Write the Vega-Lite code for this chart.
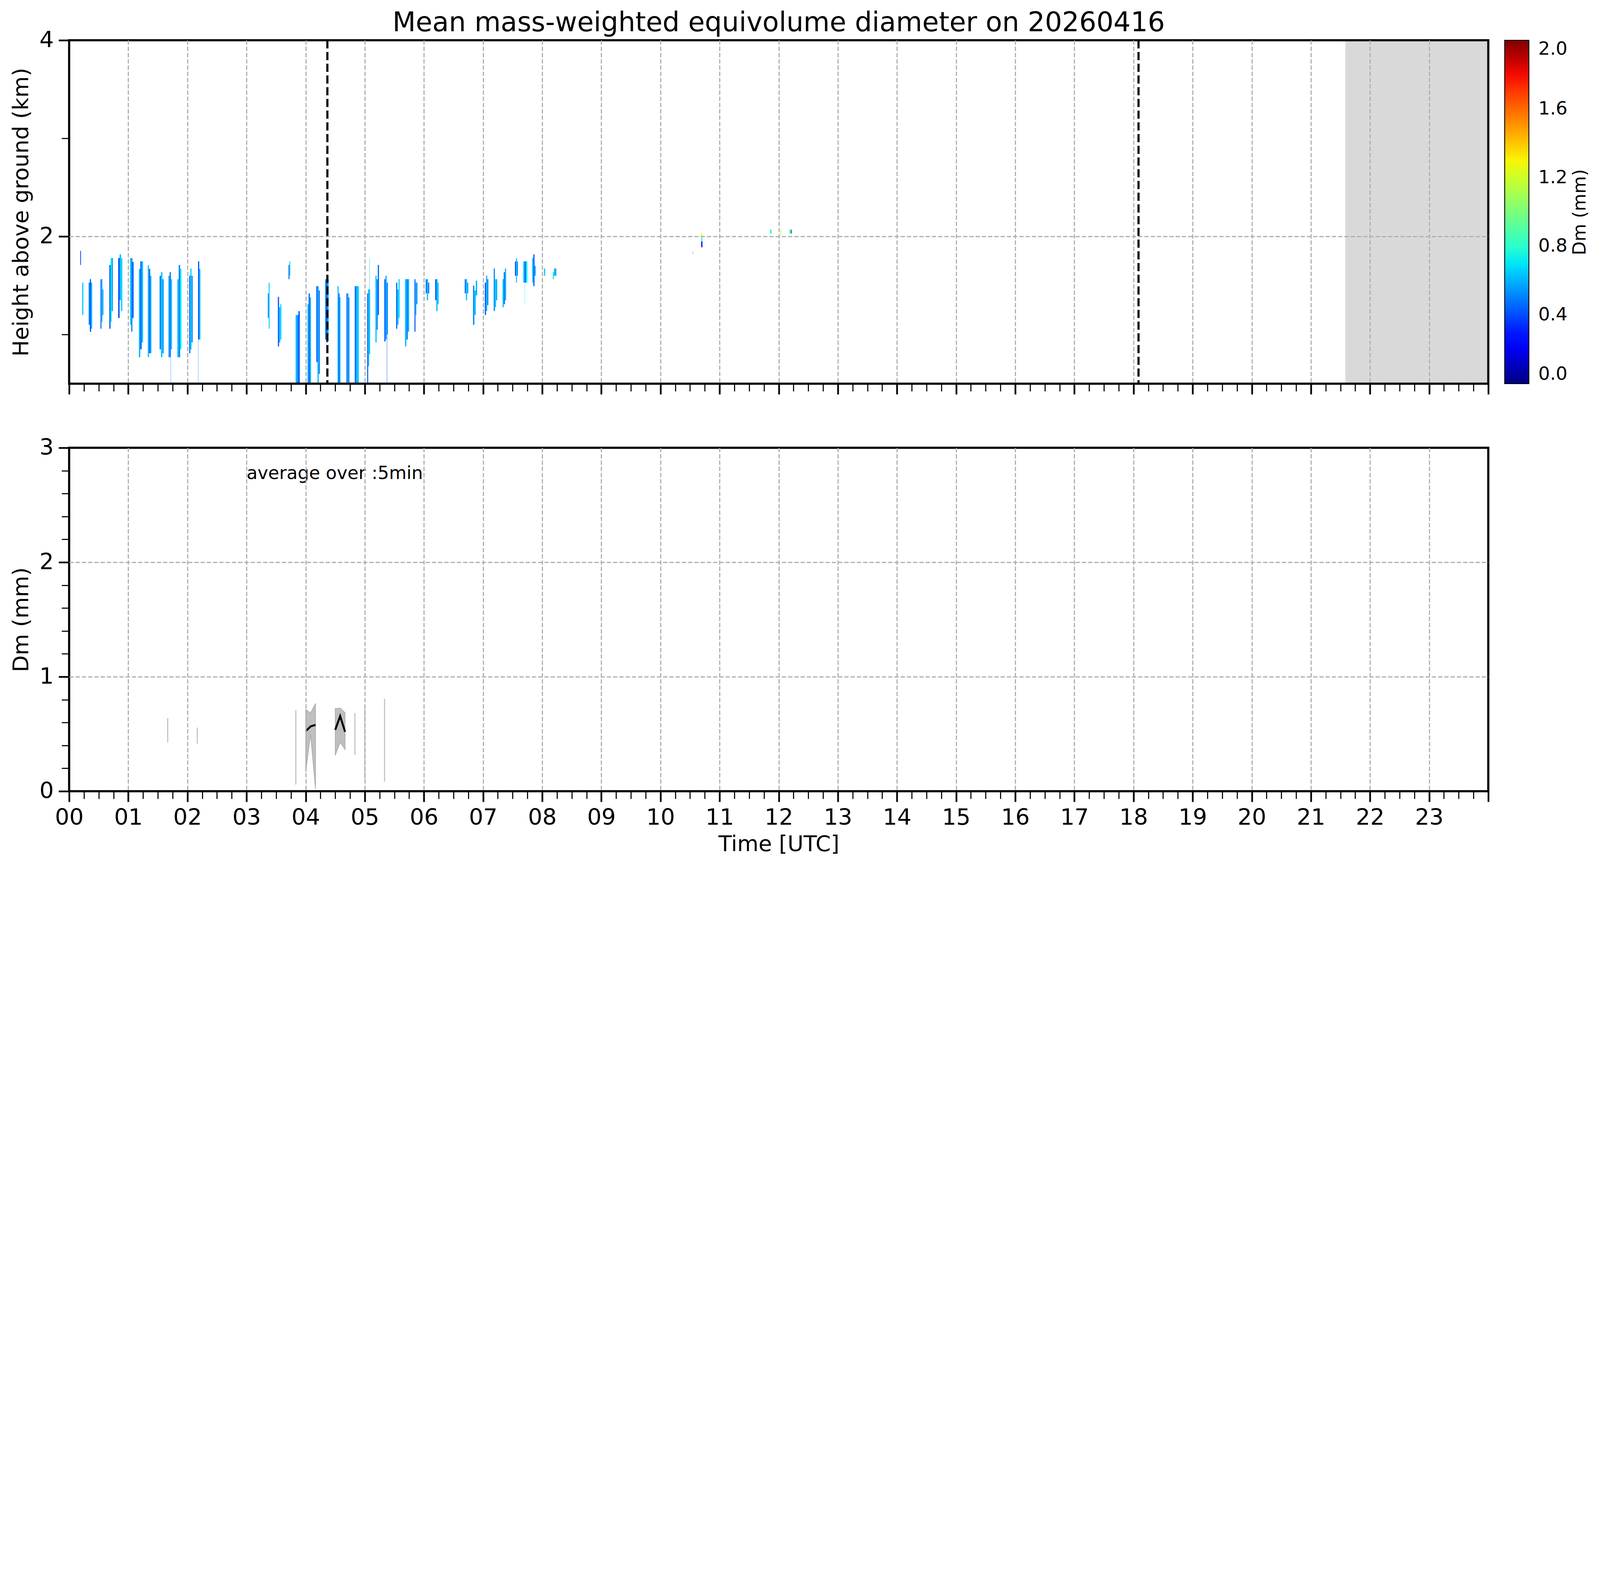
{
  "$schema": "https://vega.github.io/schema/vega-lite/v6.json",
  "background": "white",
  "padding": {"left": 26, "top": 25, "right": 10, "bottom": 10},
  "spacing": 164,
  "bounds": "flush",
  "resolve": {"scale": {"color": "independent"}},
  "config": {
    "font": "DejaVu Sans",
    "view": {"stroke": null},
    "axis": {
      "labelFont": "DejaVu Sans", "titleFont": "DejaVu Sans",
      "labelColor": "black", "titleColor": "black", "tickColor": "black",
      "titleFontWeight": "normal", "labelFontSize": 57.7, "titleFontSize": 56,
      "domain": false, "gridColor": "#b0b0b0", "gridWidth": 3, "gridDash": [11, 5],
      "labelOverlap": false, "labelFlush": false
    }
  },
  "datasets": {
    "nodata": [{"start": 21.583, "end": 24}],
    "events": [{"t": 4.367}, {"t": 18.085}],
    "dm": [
      {"a":0.188,"b":0.2,"lo":1.71,"hi":1.854,"dm":0.35},
      {"a":0.22,"b":0.24,"lo":1.2,"hi":1.53,"dm":0.65},
      {"a":0.33,"b":0.35,"lo":1.1,"hi":1.53,"dm":0.52},{"a":0.35,"b":0.37,"lo":1.03,"hi":1.565,"dm":0.42},{"a":0.37,"b":0.39,"lo":1.06,"hi":1.53,"dm":0.63},
      {"a":0.53,"b":0.547,"lo":1.06,"hi":1.565,"dm":0.45},{"a":0.547,"b":0.563,"lo":1.13,"hi":1.565,"dm":0.63},{"a":0.563,"b":0.58,"lo":1.2,"hi":1.46,"dm":0.57},
      {"a":0.68,"b":0.7,"lo":1.06,"hi":1.71,"dm":0.42},{"a":0.7,"b":0.72,"lo":1.13,"hi":1.78,"dm":0.72},{"a":0.72,"b":0.74,"lo":1.24,"hi":1.78,"dm":0.57},
      {"a":0.83,"b":0.853,"lo":1.17,"hi":1.78,"dm":0.38},{"a":0.853,"b":0.877,"lo":1.35,"hi":1.817,"dm":0.6},{"a":0.877,"b":0.9,"lo":1.24,"hi":1.78,"dm":0.68},
      {"a":1.03,"b":1.05,"lo":1.1,"hi":1.78,"dm":0.65},{"a":1.05,"b":1.07,"lo":1.03,"hi":1.78,"dm":0.52},{"a":1.07,"b":1.09,"lo":1.17,"hi":1.74,"dm":0.42},
      {"a":1.18,"b":1.203,"lo":0.77,"hi":1.67,"dm":0.6},{"a":1.203,"b":1.227,"lo":0.85,"hi":1.746,"dm":0.45},{"a":1.227,"b":1.25,"lo":0.92,"hi":1.746,"dm":0.63},
      {"a":1.33,"b":1.35,"lo":0.77,"hi":1.709,"dm":0.63},{"a":1.35,"b":1.37,"lo":0.81,"hi":1.67,"dm":0.42},{"a":1.37,"b":1.39,"lo":0.81,"hi":1.6,"dm":0.57},
      {"a":1.53,"b":1.553,"lo":0.85,"hi":1.6,"dm":0.5},{"a":1.553,"b":1.577,"lo":0.77,"hi":1.637,"dm":0.63},{"a":1.577,"b":1.6,"lo":0.81,"hi":1.565,"dm":0.57},
      {"a":1.68,"b":1.7,"lo":0.77,"hi":1.6,"dm":0.57},{"a":1.7,"b":1.72,"lo":0.77,"hi":1.637,"dm":0.45},{"a":1.72,"b":1.74,"lo":0.85,"hi":1.565,"dm":0.63},{"a":1.716,"b":1.72,"lo":0.5,"hi":0.77,"dm":0.5},
      {"a":1.83,"b":1.853,"lo":0.77,"hi":1.565,"dm":0.63},{"a":1.853,"b":1.877,"lo":0.77,"hi":1.709,"dm":0.5},{"a":1.877,"b":1.9,"lo":0.85,"hi":1.67,"dm":0.72},
      {"a":2.03,"b":2.05,"lo":0.81,"hi":1.6,"dm":0.45},{"a":2.05,"b":2.07,"lo":0.85,"hi":1.674,"dm":0.65},{"a":2.07,"b":2.09,"lo":0.92,"hi":1.6,"dm":0.52},
      {"a":2.18,"b":2.2,"lo":0.95,"hi":1.746,"dm":0.42},{"a":2.2,"b":2.22,"lo":0.95,"hi":1.67,"dm":0.63},{"a":2.18,"b":2.184,"lo":0.5,"hi":0.95,"dm":0.52},
      {"a":3.36,"b":3.375,"lo":1.17,"hi":1.42,"dm":0.5},{"a":3.375,"b":3.39,"lo":1.06,"hi":1.53,"dm":0.65},
      {"a":3.53,"b":3.55,"lo":0.88,"hi":1.385,"dm":0.42},{"a":3.55,"b":3.57,"lo":0.92,"hi":1.28,"dm":0.6},{"a":3.57,"b":3.59,"lo":0.95,"hi":1.31,"dm":0.68},
      {"a":3.71,"b":3.725,"lo":1.565,"hi":1.71,"dm":0.42},{"a":3.725,"b":3.74,"lo":1.6,"hi":1.746,"dm":0.68},
      {"a":3.83,"b":3.853,"lo":0.5,"hi":1.2,"dm":0.63},{"a":3.853,"b":3.877,"lo":0.5,"hi":1.2,"dm":0.52},{"a":3.877,"b":3.9,"lo":0.5,"hi":1.24,"dm":0.42},
      {"a":4.03,"b":4.05,"lo":0.5,"hi":1.31,"dm":0.63},{"a":4.05,"b":4.07,"lo":0.5,"hi":1.42,"dm":0.45},{"a":4.07,"b":4.09,"lo":0.5,"hi":1.38,"dm":0.6},
      {"a":4.18,"b":4.2,"lo":0.72,"hi":1.494,"dm":0.42},{"a":4.2,"b":4.22,"lo":0.5,"hi":1.494,"dm":0.6},{"a":4.22,"b":4.24,"lo":0.6,"hi":1.45,"dm":0.5},
      {"a":4.33,"b":4.35,"lo":0.95,"hi":1.565,"dm":0.5},{"a":4.35,"b":4.37,"lo":0.92,"hi":1.53,"dm":0.38},{"a":4.37,"b":4.39,"lo":1.0,"hi":1.565,"dm":0.63},
      {"a":4.54,"b":4.557,"lo":0.5,"hi":1.494,"dm":0.6},{"a":4.557,"b":4.573,"lo":0.5,"hi":1.42,"dm":0.42},{"a":4.573,"b":4.59,"lo":0.5,"hi":1.38,"dm":0.63},
      {"a":4.69,"b":4.707,"lo":0.5,"hi":1.42,"dm":0.42},{"a":4.707,"b":4.723,"lo":0.5,"hi":1.42,"dm":0.6},{"a":4.723,"b":4.74,"lo":0.5,"hi":1.38,"dm":0.5},
      {"a":4.83,"b":4.853,"lo":0.5,"hi":1.494,"dm":0.45},{"a":4.853,"b":4.877,"lo":0.5,"hi":1.494,"dm":0.6},{"a":4.877,"b":4.9,"lo":0.5,"hi":1.494,"dm":0.65},
      {"a":5.04,"b":5.057,"lo":0.5,"hi":1.42,"dm":0.42},{"a":5.057,"b":5.073,"lo":0.68,"hi":1.46,"dm":0.6},{"a":5.073,"b":5.09,"lo":0.8,"hi":1.46,"dm":0.63},{"a":5.078,"b":5.083,"lo":1.46,"hi":1.78,"dm":0.63},
      {"a":5.18,"b":5.2,"lo":0.92,"hi":1.6,"dm":0.63},{"a":5.2,"b":5.22,"lo":1.05,"hi":1.565,"dm":0.52},{"a":5.22,"b":5.24,"lo":1.2,"hi":1.71,"dm":0.45},
      {"a":5.33,"b":5.35,"lo":0.93,"hi":1.565,"dm":0.42},{"a":5.35,"b":5.37,"lo":0.95,"hi":1.6,"dm":0.6},{"a":5.37,"b":5.39,"lo":1.0,"hi":1.53,"dm":0.52},{"a":5.374,"b":5.379,"lo":0.5,"hi":1.0,"dm":0.38},
      {"a":5.53,"b":5.55,"lo":1.06,"hi":1.53,"dm":0.45},{"a":5.55,"b":5.57,"lo":1.1,"hi":1.46,"dm":0.63},{"a":5.57,"b":5.59,"lo":1.17,"hi":1.565,"dm":0.68},
      {"a":5.68,"b":5.703,"lo":0.88,"hi":1.565,"dm":0.63},{"a":5.703,"b":5.727,"lo":0.95,"hi":1.565,"dm":0.5},{"a":5.727,"b":5.75,"lo":1.03,"hi":1.565,"dm":0.6},
      {"a":5.84,"b":5.857,"lo":1.03,"hi":1.565,"dm":0.42},{"a":5.857,"b":5.873,"lo":1.2,"hi":1.53,"dm":0.63},{"a":5.873,"b":5.89,"lo":1.31,"hi":1.53,"dm":0.52},
      {"a":6.03,"b":6.05,"lo":1.42,"hi":1.565,"dm":0.45},{"a":6.05,"b":6.07,"lo":1.35,"hi":1.565,"dm":0.63},{"a":6.07,"b":6.09,"lo":1.42,"hi":1.53,"dm":0.5},
      {"a":6.19,"b":6.21,"lo":1.35,"hi":1.565,"dm":0.42},{"a":6.21,"b":6.23,"lo":1.24,"hi":1.565,"dm":0.6},{"a":6.23,"b":6.25,"lo":1.31,"hi":1.53,"dm":0.65},
      {"a":6.69,"b":6.71,"lo":1.42,"hi":1.565,"dm":0.45},{"a":6.71,"b":6.73,"lo":1.35,"hi":1.565,"dm":0.63},{"a":6.73,"b":6.75,"lo":1.42,"hi":1.53,"dm":0.57},
      {"a":6.83,"b":6.853,"lo":1.1,"hi":1.5,"dm":0.52},{"a":6.853,"b":6.877,"lo":1.2,"hi":1.45,"dm":0.63},{"a":6.877,"b":6.9,"lo":1.4,"hi":1.55,"dm":0.6},
      {"a":7.03,"b":7.05,"lo":1.2,"hi":1.53,"dm":0.42},{"a":7.05,"b":7.07,"lo":1.24,"hi":1.6,"dm":0.6},{"a":7.07,"b":7.09,"lo":1.3,"hi":1.565,"dm":0.52},
      {"a":7.18,"b":7.2,"lo":1.24,"hi":1.674,"dm":0.52},{"a":7.2,"b":7.22,"lo":1.28,"hi":1.565,"dm":0.65},{"a":7.22,"b":7.24,"lo":1.35,"hi":1.565,"dm":0.6},
      {"a":7.33,"b":7.35,"lo":1.278,"hi":1.565,"dm":0.63},{"a":7.35,"b":7.37,"lo":1.31,"hi":1.637,"dm":0.45},{"a":7.37,"b":7.39,"lo":1.35,"hi":1.674,"dm":0.6},
      {"a":7.54,"b":7.557,"lo":1.6,"hi":1.746,"dm":0.38},{"a":7.557,"b":7.573,"lo":1.53,"hi":1.78,"dm":0.63},{"a":7.573,"b":7.59,"lo":1.6,"hi":1.746,"dm":0.52},
      {"a":7.68,"b":7.703,"lo":1.53,"hi":1.746,"dm":0.63},{"a":7.703,"b":7.727,"lo":1.53,"hi":1.746,"dm":0.45},{"a":7.727,"b":7.75,"lo":1.53,"hi":1.746,"dm":0.72},{"a":7.705,"b":7.709,"lo":1.31,"hi":1.53,"dm":0.72},
      {"a":7.83,"b":7.85,"lo":1.53,"hi":1.78,"dm":0.65},{"a":7.85,"b":7.87,"lo":1.494,"hi":1.817,"dm":0.42},{"a":7.87,"b":7.89,"lo":1.6,"hi":1.7,"dm":0.57},
      {"a":8.03,"b":8.05,"lo":1.6,"hi":1.674,"dm":0.63},
      {"a":8.18,"b":8.2,"lo":1.565,"hi":1.637,"dm":0.72},{"a":8.2,"b":8.24,"lo":1.6,"hi":1.674,"dm":0.6},
      {"a":10.548,"b":10.552,"lo":1.82,"hi":1.85,"dm":0.45},
      {"a":10.69,"b":10.71,"lo":1.89,"hi":1.95,"dm":0.2},
      {"a":10.69,"b":10.71,"lo":1.95,"hi":1.99,"dm":0.75},
      {"a":10.69,"b":10.71,"lo":1.99,"hi":2.03,"dm":1.3},
      {"a":11.85,"b":11.88,"lo":2.03,"hi":2.07,"dm":0.85},
      {"a":12.03,"b":12.04,"lo":2.01,"hi":2.07,"dm":1.1},
      {"a":12.18,"b":12.21,"lo":2.03,"hi":2.07,"dm":0.9},
      {"a":12.21,"b":12.22,"lo":2.03,"hi":2.07,"dm":0.15}
    ],
    "edges": [
      {"t":1.6667,"lo":0.427,"hi":0.639},
      {"t":2.1667,"lo":0.416,"hi":0.556},
      {"t":3.8333,"lo":0.058,"hi":0.709},
      {"t":4.8333,"lo":0.318,"hi":0.682},
      {"t":5.0,"lo":0.104,"hi":0.743},
      {"t":5.3333,"lo":0.084,"hi":0.808}
    ],
    "band": [
      {"t":4.0,"lo":0.167,"hi":0.714,"seg":1},
      {"t":4.0833,"lo":0.495,"hi":0.685,"seg":1},
      {"t":4.1667,"lo":0.019,"hi":0.767,"seg":1},
      {"t":4.5,"lo":0.313,"hi":0.723,"seg":2},
      {"t":4.5833,"lo":0.427,"hi":0.726,"seg":2},
      {"t":4.6667,"lo":0.364,"hi":0.685,"seg":2}
    ],
    "mean": [
      {"t":4.0,"dm":0.524,"seg":1},
      {"t":4.0833,"dm":0.566,"seg":1},
      {"t":4.1667,"dm":0.58,"seg":1},
      {"t":4.5,"dm":0.536,"seg":2},
      {"t":4.5833,"dm":0.656,"seg":2},
      {"t":4.6667,"dm":0.519,"seg":2}
    ],
    "note": [{"t": 3.0, "v": 2.728, "label": "average over :5min"}]
  },
  "vconcat": [
    {
      "width": 3633,
      "height": 879,
      "title": {"text": "Mean mass-weighted equivolume diameter on 20260416", "font": "DejaVu Sans", "fontSize": 69, "fontWeight": "normal", "color": "black", "anchor": "middle", "frame": "group", "baseline": "alphabetic", "offset": -75},
      "resolve": {"axis": {"x": "independent", "y": "independent"}},
      "layer": [
        {
          "data": {"name": "nodata"},
          "mark": {"type": "rect", "color": "#d9d9d9"},
          "encoding": {
            "x": {"field": "start", "type": "quantitative", "scale": {"domain": [0, 24], "nice": false, "zero": false},
              "axis": {
                "orient": "bottom", "title": null, "labels": false, "zindex": 1, "grid": true,
                "values": [0,1,2,3,4,5,6,7,8,9,10,11,12,13,14,15,16,17,18,19,20,21,22,23,24],
                "tickSize": 27, "tickWidth": 4.4,
                "gridOpacity": {"condition": {"test": "datum.value > 0 && datum.value < 24", "value": 1}, "value": 0}
              }
            },
            "x2": {"field": "end"},
            "y": {"datum": 0.5, "type": "quantitative", "scale": {"domain": [0.5, 4], "nice": false, "zero": false},
              "axis": {
                "orient": "left", "title": "Height above ground (km)", "titleX": -105.2, "titleY": 439.5, "titleBaseline": "alphabetic", "titleAngle": 270, "titleAlign": "center",
                "zindex": 1, "grid": true, "values": [2, 4], "tickSize": 27, "tickWidth": 4.4, "labelPadding": 12.9,
                "gridOpacity": {"condition": {"test": "datum.value === 2", "value": 1}, "value": 0}
              }
            },
            "y2": {"datum": 4}
          }
        },
        {
          "data": {"name": "dm"},
          "mark": {"type": "rect"},
          "encoding": {
            "x": {"field": "a", "type": "quantitative", "scale": {"domain": [0, 24], "nice": false, "zero": false},
              "axis": {
                "orient": "bottom", "title": null, "labels": false, "grid": false, "zindex": 1,
                "values": [0.25,0.5,0.75,1.25,1.5,1.75,2.25,2.5,2.75,3.25,3.5,3.75,4.25,4.5,4.75,5.25,5.5,5.75,6.25,6.5,6.75,7.25,7.5,7.75,8.25,8.5,8.75,9.25,9.5,9.75,10.25,10.5,10.75,11.25,11.5,11.75,12.25,12.5,12.75,13.25,13.5,13.75,14.25,14.5,14.75,15.25,15.5,15.75,16.25,16.5,16.75,17.25,17.5,17.75,18.25,18.5,18.75,19.25,19.5,19.75,20.25,20.5,20.75,21.25,21.5,21.75,22.25,22.5,22.75,23.25,23.5,23.75],
                "tickSize": 19.3, "tickWidth": 2.75
              }
            },
            "x2": {"field": "b"},
            "y": {"field": "lo", "type": "quantitative", "scale": {"domain": [0.5, 4], "nice": false, "zero": false},
              "axis": {
                "orient": "left", "title": null, "labels": false, "grid": false, "zindex": 1,
                "values": [1, 3], "tickSize": 19.3, "tickWidth": 2.75
              }
            },
            "y2": {"field": "hi"},
            "color": {
              "field": "dm", "type": "quantitative",
              "scale": {
                "domain": [0, 0.22, 0.25, 0.68, 0.7, 0.75, 1, 1.28, 1.32, 1.78, 1.82, 2],
                "range": ["#000080", "#0000ff", "#0000ff", "#00dbff", "#00e6f7", "#14ffe2", "#7bff7b", "#eeff08", "#ffec00", "#ff1300", "#e80000", "#800000"],
                "interpolate": "rgb", "clamp": true
              },
              "legend": {
                "orient": "none", "legendX": 3675, "legendY": 0, "direction": "vertical", "padding": 0,
                "gradientLength": 879, "gradientThickness": 62, "gradientStrokeColor": "black", "gradientStrokeWidth": 2.2,
                "values": [0, 0.4, 0.8, 1.2, 1.6, 2.0], "format": ".1f",
                "labelFont": "DejaVu Sans", "labelFontSize": 47, "labelColor": "black", "labelOffset": 24, "labelBaseline": "middle", "labelOverlap": false, "labelLimit": 500,
                "title": "Dm (mm)", "titleOrient": "right", "titleAnchor": "middle", "titleFont": "DejaVu Sans", "titleFontSize": 46, "titleFontWeight": "normal", "titleColor": "black", "titlePadding": 10, "titleLimit": 2000,
                "encode": {"title": {"update": {"angle": {"value": 270}, "baseline": {"value": "top"}}}}
              }
            }
          }
        },
        {
          "data": {"name": "events"},
          "mark": {"type": "rule", "color": "black", "strokeWidth": 5.5, "strokeDash": [21, 9]},
          "encoding": {
            "x": {"field": "t", "type": "quantitative", "scale": {"domain": [0, 24], "nice": false, "zero": false}, "axis": null}
          }
        },
        {
          "data": {"values": [{}]},
          "mark": {"type": "rect", "filled": false, "color": "black", "strokeWidth": 5.5, "opacity": 1},
          "encoding": {
            "x": {"datum": 0, "type": "quantitative", "scale": {"domain": [0, 24], "nice": false, "zero": false}, "axis": null},
            "x2": {"datum": 24},
            "y": {"datum": 0.5, "type": "quantitative", "scale": {"domain": [0.5, 4], "nice": false, "zero": false}, "axis": null},
            "y2": {"datum": 4}
          }
        }
      ]
    },
    {
      "width": 3633,
      "height": 879,
      "resolve": {"axis": {"x": "independent", "y": "independent"}},
      "layer": [
        {
          "data": {"name": "edges"},
          "mark": {"type": "rule", "color": "#c0c0c0", "strokeWidth": 2.75},
          "encoding": {
            "x": {"field": "t", "type": "quantitative", "scale": {"domain": [0, 24], "nice": false, "zero": false},
              "axis": {
                "orient": "bottom", "title": "Time [UTC]", "titleY": 152.3, "titleBaseline": "alphabetic", "zindex": 1, "grid": true,
                "values": [0,1,2,3,4,5,6,7,8,9,10,11,12,13,14,15,16,17,18,19,20,21,22,23,24],
                "labelExpr": "datum.value < 24 ? (datum.value < 10 ? '0' + datum.value : '' + datum.value) : ''",
                "tickSize": 27, "tickWidth": 4.4, "labelPadding": 12.2,
                "gridOpacity": {"condition": {"test": "datum.value > 0 && datum.value < 24", "value": 1}, "value": 0}
              }
            },
            "y": {"field": "lo", "type": "quantitative", "scale": {"domain": [0, 3], "nice": false, "zero": false},
              "axis": {
                "orient": "left", "title": "Dm (mm)", "titleX": -105.2, "titleY": 439.5, "titleBaseline": "alphabetic", "titleAngle": 270, "titleAlign": "center",
                "zindex": 1, "grid": true, "values": [0, 1, 2, 3], "tickSize": 27, "tickWidth": 4.4, "labelPadding": 12.9,
                "gridOpacity": {"condition": {"test": "datum.value > 0 && datum.value < 3", "value": 1}, "value": 0}
              }
            },
            "y2": {"field": "hi"}
          }
        },
        {
          "data": {"name": "band"},
          "mark": {"type": "area", "color": "#bfbfbf", "stroke": "#a8a8a8", "strokeWidth": 1.6, "opacity": 1},
          "encoding": {
            "x": {"field": "t", "type": "quantitative", "scale": {"domain": [0, 24], "nice": false, "zero": false},
              "axis": {
                "orient": "bottom", "title": null, "labels": false, "grid": false, "zindex": 1,
                "values": [0.25,0.5,0.75,1.25,1.5,1.75,2.25,2.5,2.75,3.25,3.5,3.75,4.25,4.5,4.75,5.25,5.5,5.75,6.25,6.5,6.75,7.25,7.5,7.75,8.25,8.5,8.75,9.25,9.5,9.75,10.25,10.5,10.75,11.25,11.5,11.75,12.25,12.5,12.75,13.25,13.5,13.75,14.25,14.5,14.75,15.25,15.5,15.75,16.25,16.5,16.75,17.25,17.5,17.75,18.25,18.5,18.75,19.25,19.5,19.75,20.25,20.5,20.75,21.25,21.5,21.75,22.25,22.5,22.75,23.25,23.5,23.75],
                "tickSize": 19.3, "tickWidth": 2.75
              }
            },
            "y": {"field": "lo", "type": "quantitative", "scale": {"domain": [0, 3], "nice": false, "zero": false},
              "axis": {
                "orient": "left", "title": null, "labels": false, "grid": false, "zindex": 1,
                "values": [0.2, 0.4, 0.6, 0.8, 1.2, 1.4, 1.6, 1.8, 2.2, 2.4, 2.6, 2.8], "tickSize": 19.3, "tickWidth": 2.75
              }
            },
            "y2": {"field": "hi"},
            "detail": {"field": "seg", "type": "nominal"}
          }
        },
        {
          "data": {"name": "mean"},
          "mark": {"type": "line", "color": "black", "strokeWidth": 5},
          "encoding": {
            "x": {"field": "t", "type": "quantitative", "scale": {"domain": [0, 24], "nice": false, "zero": false}, "axis": null},
            "y": {"field": "dm", "type": "quantitative", "scale": {"domain": [0, 3], "nice": false, "zero": false}, "axis": null},
            "detail": {"field": "seg", "type": "nominal"}
          }
        },
        {
          "data": {"name": "note"},
          "mark": {"type": "text", "align": "left", "baseline": "alphabetic", "font": "DejaVu Sans", "fontSize": 46, "color": "black"},
          "encoding": {
            "x": {"field": "t", "type": "quantitative", "scale": {"domain": [0, 24], "nice": false, "zero": false}, "axis": null},
            "y": {"field": "v", "type": "quantitative", "scale": {"domain": [0, 3], "nice": false, "zero": false}, "axis": null},
            "text": {"field": "label"}
          }
        },
        {
          "data": {"values": [{}]},
          "mark": {"type": "rect", "filled": false, "color": "black", "strokeWidth": 5.5, "opacity": 1},
          "encoding": {
            "x": {"datum": 0, "type": "quantitative", "scale": {"domain": [0, 24], "nice": false, "zero": false}, "axis": null},
            "x2": {"datum": 24},
            "y": {"datum": 0, "type": "quantitative", "scale": {"domain": [0, 3], "nice": false, "zero": false}, "axis": null},
            "y2": {"datum": 3}
          }
        }
      ]
    }
  ]
}
